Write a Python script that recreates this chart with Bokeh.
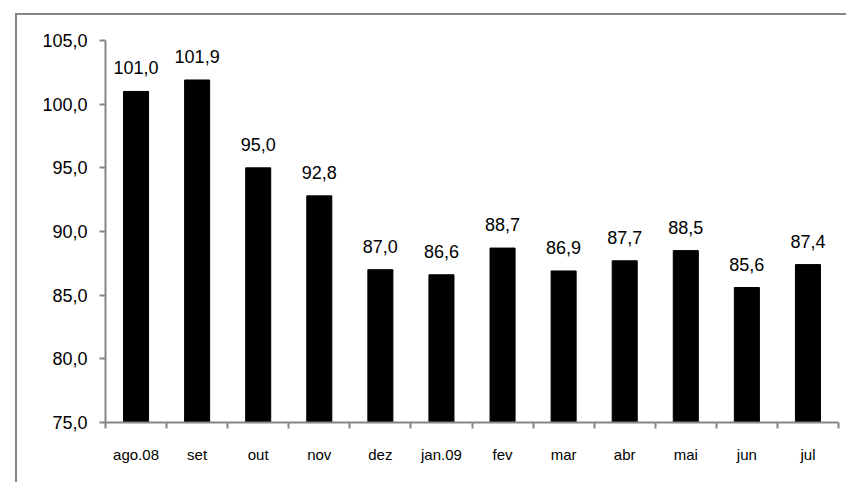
from bokeh.plotting import figure
from bokeh.models import ColumnDataSource, Range1d, FixedTicker, LabelSet
from bokeh.core.properties import value
from bokeh.embed import file_html
from bokeh.resources import INLINE

months = ["ago.08", "set", "out", "nov", "dez", "jan.09", "fev", "mar",
          "abr", "mai", "jun", "jul"]
values = [101.0, 101.9, 95.0, 92.8, 87.0, 86.6, 88.7, 86.9, 87.7, 88.5, 85.6, 87.4]
y_ticks = [75, 80, 85, 90, 95, 100, 105]
y_tick_labels = ["75,0", "80,0", "85,0", "90,0", "95,0", "100,0", "105,0"]

xs = [i + 0.5 for i in range(len(months))]
labels = [f"{v:.1f}".replace(".", ",") for v in values]
src = ColumnDataSource(dict(x=xs, top=values, label=labels))

FONT = "Liberation Sans"
GRAY = "#868686"

p = figure(width=831, height=469, output_backend="svg", toolbar_location=None,
           x_range=Range1d(0, len(months)), y_range=Range1d(75, 105),
           min_border_left=88, min_border_right=10, min_border_top=25,
           min_border_bottom=62)
p.outline_line_color = None
p.xgrid.visible = False
p.ygrid.visible = False

p.vbar(x="x", top="top", bottom=75, width=0.41, source=src,
       fill_color="black", line_color="black")

p.add_layout(LabelSet(x="x", y="top", text="label", source=src,
                      text_align="center", text_baseline="alphabetic",
                      y_offset=17, text_font=value(FONT), text_font_size="18px",
                      text_color="black"))

# y axis
ya = p.yaxis[0]
ya.ticker = FixedTicker(ticks=y_ticks, minor_ticks=[])
ya.major_label_overrides = {t: l for t, l in zip(y_ticks, y_tick_labels)}
ya.axis_line_color = GRAY
ya.axis_line_width = 2
ya.major_tick_line_color = GRAY
ya.major_tick_line_width = 2
ya.major_tick_out = 6
ya.major_tick_in = 0
ya.minor_tick_line_color = None
ya.major_label_text_font = FONT
ya.major_label_text_font_size = "18px"
ya.major_label_text_color = "black"
ya.major_label_standoff = 12

# x axis: labels at centres, ticks at category boundaries
xa = p.xaxis[0]
xa.ticker = FixedTicker(ticks=xs, minor_ticks=list(range(len(months) + 1)))
xa.major_label_overrides = {x: m for x, m in zip(xs, months)}
xa.axis_line_color = GRAY
xa.axis_line_width = 2
xa.major_tick_line_color = None
xa.major_tick_out = 0
xa.major_tick_in = 0
xa.minor_tick_line_color = GRAY
xa.minor_tick_line_width = 2
xa.minor_tick_out = 6
xa.minor_tick_in = 0
xa.major_label_text_font = FONT
xa.major_label_text_font_size = "15px"
xa.major_label_text_color = "black"
xa.major_label_standoff = 17

# outer chart border (only left and top are visible in the picture)
p.styles = {"margin-top": "13px", "margin-left": "15px",
            "border-left": f"2px solid {GRAY}",
            "border-top": f"2px solid {GRAY}"}

open("out.html", "w").write(file_html(p, INLINE))
